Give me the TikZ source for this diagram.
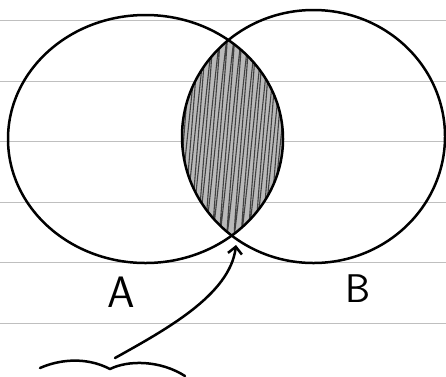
\documentclass[tikz,border=0pt]{standalone}
\usetikzlibrary{arrows.meta}
\begin{document}
\begin{tikzpicture}[x=1pt,y=-1pt,
    ink/.style={line width=2.5pt, line cap=round, line join=round},
    ruled/.style={gray!50, line width=1pt}]
                % Hoja
                \useasboundingbox (0,0) rectangle (446,376);
                \fill[white] (0,0) rectangle (446,376);
                \foreach \y in {20,81,141,202,262,323}
                    \draw[ruled] (0,\y) -- (446,\y);

                % Interseccion sombreada
                \begin{scope}
                    \clip (145.5,139) ellipse (137.5pt and 124pt);
                    \clip (313.5,136.5) ellipse (131.5pt and 126.5pt);
                    \fill[gray!55] (170,20) rectangle (300,250);
                    \draw[black!75, line width=1.1pt, domain=-15:120, samples=900, smooth, variable=\t]
                        plot ({175+\t+9*cos(\t*50)}, {135-98*cos(\t*50)});
                \end{scope}

                % Conjuntos A y B
                \draw[ink] (145.5,139) ellipse (137.5pt and 124pt);
                \draw[ink] (313.5,136.5) ellipse (131.5pt and 126.5pt);
                \node (A) at (121,292) {\fontsize{44}{44}\selectfont\sffamily A};
                \node (B) at (358,289) {\fontsize{40}{40}\selectfont\sffamily B};

                % Flecha
                \coordinate (tail) at (115,358);
                \coordinate (tip) at (236,245);
                \draw[ink, -{Straight Barb[length=7pt,width=14pt]}] (tail) .. controls (165,330) and (230,295) .. (tip);
                \draw[ink] (40,368) .. controls (58,360) and (85,356) .. (110,369)
                    .. controls (128,360) and (160,360) .. (185,376);
            \end{tikzpicture}
\end{document}
